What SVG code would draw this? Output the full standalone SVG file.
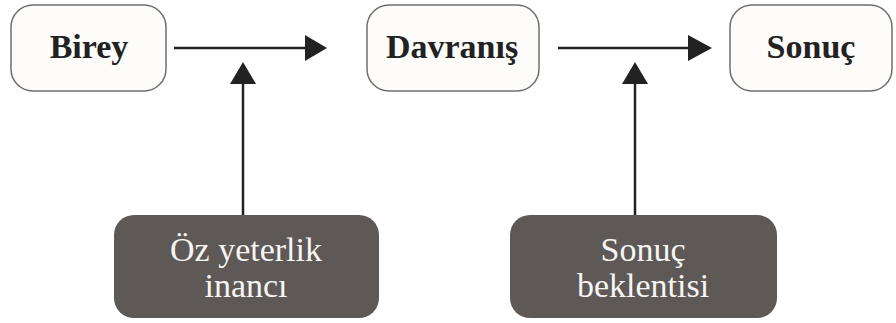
<svg xmlns="http://www.w3.org/2000/svg" width="896" height="323" viewBox="0 0 896 323">
<defs>
<style>
.box{fill:#fdfcfb;stroke:#6f6f6f;stroke-width:1.5}
.dark{fill:#5e5957}
.lbl{font-family:"Liberation Serif","Times New Roman",serif;font-weight:bold;font-size:34px;fill:#222;text-anchor:middle}
.wl{font-family:"Liberation Serif","Times New Roman",serif;font-size:34px;fill:#f7f5f3;text-anchor:middle}
.ln{stroke:#222;stroke-width:2.5;fill:none}
.hd{fill:#222}
</style>
</defs>
<rect width="896" height="323" fill="#fff"/>
<g id="birey"><rect class="box" x="11" y="5" width="155" height="86" rx="22"/><text class="lbl" x="89" y="58">Birey</text></g>
<g id="davranis"><rect class="box" x="367" y="5" width="172" height="86" rx="22"/><text class="lbl" x="452" y="58">Davranış</text></g>
<g id="sonuc"><rect class="box" x="730" y="5" width="162" height="86" rx="22"/><text class="lbl" x="811" y="58">Sonuç</text></g>
<g id="ozyeterlik"><rect class="dark" x="114" y="215" width="265" height="103" rx="20"/><text class="wl" x="246" y="261">Öz yeterlik</text><text class="wl" x="246" y="297">inancı</text></g>
<g id="sonucbeklentisi"><rect class="dark" x="510" y="215" width="267" height="103" rx="20"/><text class="wl" x="643" y="261">Sonuç</text><text class="wl" x="643" y="297">beklentisi</text></g>
<g id="connectors">
<line class="ln" x1="174" y1="48" x2="306" y2="48"/><polygon class="hd" points="305,35 327,48 305,61"/>
<line class="ln" x1="558" y1="48" x2="690" y2="48"/><polygon class="hd" points="688,35 712,48 688,61"/>
<line class="ln" x1="243" y1="215" x2="243" y2="83"/><polygon class="hd" points="230,84 243,62 256,84"/>
<line class="ln" x1="635" y1="215" x2="635" y2="83"/><polygon class="hd" points="622,84 635,62 648,84"/>
</g>
</svg>
